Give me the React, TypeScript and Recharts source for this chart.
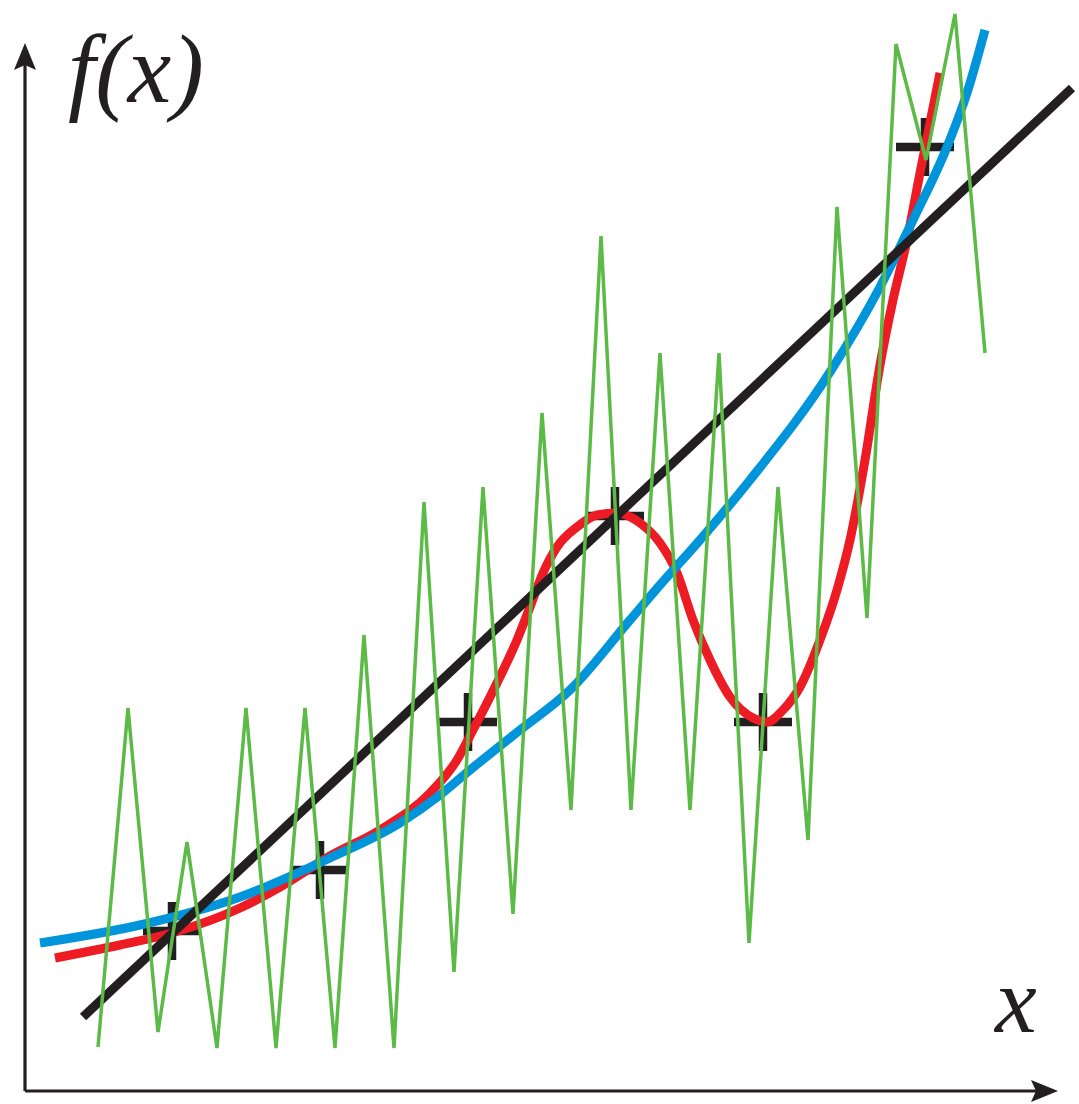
import React from 'react';
import { ComposedChart, Line, XAxis, YAxis, ReferenceLine } from 'recharts';

// Value ranges of the two axes
const X_MAX = 1054;
const Y_MAX = 1091;

// Observed data points (black "+" markers)
const pointX = [147, 295, 443, 590, 738, 900];
const pointY = [160, 221, 369, 575, 369, 944];

// Linear fit (black)
const linearX = [58, 1047];
const linearY = [74, 1003];

// Low-order fit (blue)
const quadX = [15, 115, 215, 305, 375, 415, 445, 495, 545, 605, 635, 675, 725, 805, 855, 888, 922, 942, 960];
const quadY = [148, 166, 194, 233, 268, 296, 321, 361, 401, 471, 506, 551, 611, 719, 804, 871, 944, 998, 1061];

// Interpolating polynomial (red)
const polyX = [30, 95, 147, 215, 255, 305, 355, 405, 432, 448, 472, 492, 505, 518, 532, 552, 572, 592, 615, 635, 652, 668, 685, 705, 728, 742, 758, 775, 795, 812, 825, 840, 855, 868, 882, 895, 905, 915];
const polyY = [133, 146, 158, 183, 204, 235, 261, 298, 331, 361, 408, 451, 484, 518, 544, 564, 576, 578, 568, 548, 518, 471, 431, 394, 373, 369, 381, 404, 451, 501, 551, 631, 726, 791, 851, 918, 968, 1018];

// Overfit zigzag (green)
const noiseX = [73, 103, 133, 162, 192, 221, 251, 280, 310, 339, 369, 399, 429, 458, 488, 517, 546, 576, 606, 635, 665, 694, 724, 753, 783, 812, 842, 871, 901, 930, 960];
const noiseY = [44, 383, 59, 249, 43, 383, 43, 383, 43, 456, 43, 589, 119, 604, 177, 678, 281, 855, 281, 738, 281, 738, 148, 604, 251, 884, 473, 1047, 931, 1077, 738];

const toRows = (xs: number[], ys: number[]) => xs.map((x, i) => ({ x, y: ys[i] }));

const points = toRows(pointX, pointY);
const linear = toRows(linearX, linearY);
const quad = toRows(quadX, quadY);
const poly = toRows(polyX, polyY);
const noise = toRows(noiseX, noiseY);

const INK = '#231F20';
const RED = '#ED1C24';
const BLUE = '#0095DA';
const GREEN = '#5CBA47';

// d3-style curve factory that draws a "+" glyph at every point instead of joining them,
// so the markers sit in the line layer beneath the fitted curves.
const PLUS_HALF = 29;
const plusCurve: any = (context: any) => ({
  areaStart() {},
  areaEnd() {},
  lineStart() {},
  lineEnd() {},
  point(x: number, y: number) {
    context.moveTo(x - PLUS_HALF, y);
    context.lineTo(x + PLUS_HALF, y);
    context.moveTo(x, y - PLUS_HALF);
    context.lineTo(x, y + PLUS_HALF);
  },
});

const ArrowAxis = (props: any) => {
  const { x1, y1, x2, y2 } = props;
  if ([x1, y1, x2, y2].some((v) => v == null || isNaN(v))) return null;
  const dx = x2 - x1;
  const dy = y2 - y1;
  const len = Math.hypot(dx, dy) || 1;
  const ux = dx / len;
  const uy = dy / len;
  const L = 27;
  const W = 11;
  const N = 5;
  const bx = x2 - ux * L;
  const by = y2 - uy * L;
  const px = -uy;
  const py = ux;
  const nx = x2 - ux * (L - N);
  const ny = y2 - uy * (L - N);
  const pts = [
    [x2, y2],
    [bx + px * W, by + py * W],
    [nx, ny],
    [bx - px * W, by - py * W],
  ]
    .map((p) => p.join(','))
    .join(' ');
  return (
    <g>
      <line x1={x1} y1={y1} x2={nx} y2={ny} stroke={INK} strokeWidth={3.2} />
      <polygon points={pts} fill={INK} />
    </g>
  );
};

export default function App() {
  return (
    <div style={{ position: 'absolute', left: 0, top: 0, width: 1079, height: 1104, background: '#fff' }}>
      <ComposedChart width={1079} height={1104} margin={{ top: 0, right: 0, bottom: 13, left: 25 }}>
        <XAxis type="number" dataKey="x" domain={[0, X_MAX]} allowDataOverflow hide />
        <YAxis type="number" domain={[0, Y_MAX]} allowDataOverflow hide />
        <ReferenceLine
          segment={[{ x: 0, y: 0 }, { x: 1033, y: 0 }]}
          ifOverflow="visible"
          shape={ArrowAxis}
        />
        <ReferenceLine
          segment={[{ x: 0, y: 0 }, { x: 0, y: 1048 }]}
          ifOverflow="visible"
          shape={ArrowAxis}
        />
        <Line data={points} dataKey="y" type={plusCurve} stroke={INK} strokeWidth={8.5} fill="none" dot={false} activeDot={false} isAnimationActive={false} />
        <Line data={poly} dataKey="y" type="monotone" stroke={RED} strokeWidth={9} dot={false} activeDot={false} isAnimationActive={false} />
        <Line data={quad} dataKey="y" type="monotone" stroke={BLUE} strokeWidth={9} dot={false} activeDot={false} isAnimationActive={false} />
        <Line data={linear} dataKey="y" type="linear" stroke={INK} strokeWidth={9} dot={false} activeDot={false} isAnimationActive={false} />
        <Line data={noise} dataKey="y" type="linear" stroke={GREEN} strokeWidth={3.5} dot={false} activeDot={false} isAnimationActive={false} />
      </ComposedChart>
      <svg width={1079} height={1104} style={{ position: 'absolute', left: 0, top: 0, pointerEvents: 'none' }}>
        <text x={68} y={102} fontFamily="'Liberation Serif', 'DejaVu Serif', serif" fontStyle="italic" fontSize={98} fill={INK}>
          f(x)
        </text>
        <text x={995} y={1032} fontFamily="'Liberation Serif', 'DejaVu Serif', serif" fontStyle="italic" fontSize={94} fill={INK}>
          x
        </text>
      </svg>
    </div>
  );
}
